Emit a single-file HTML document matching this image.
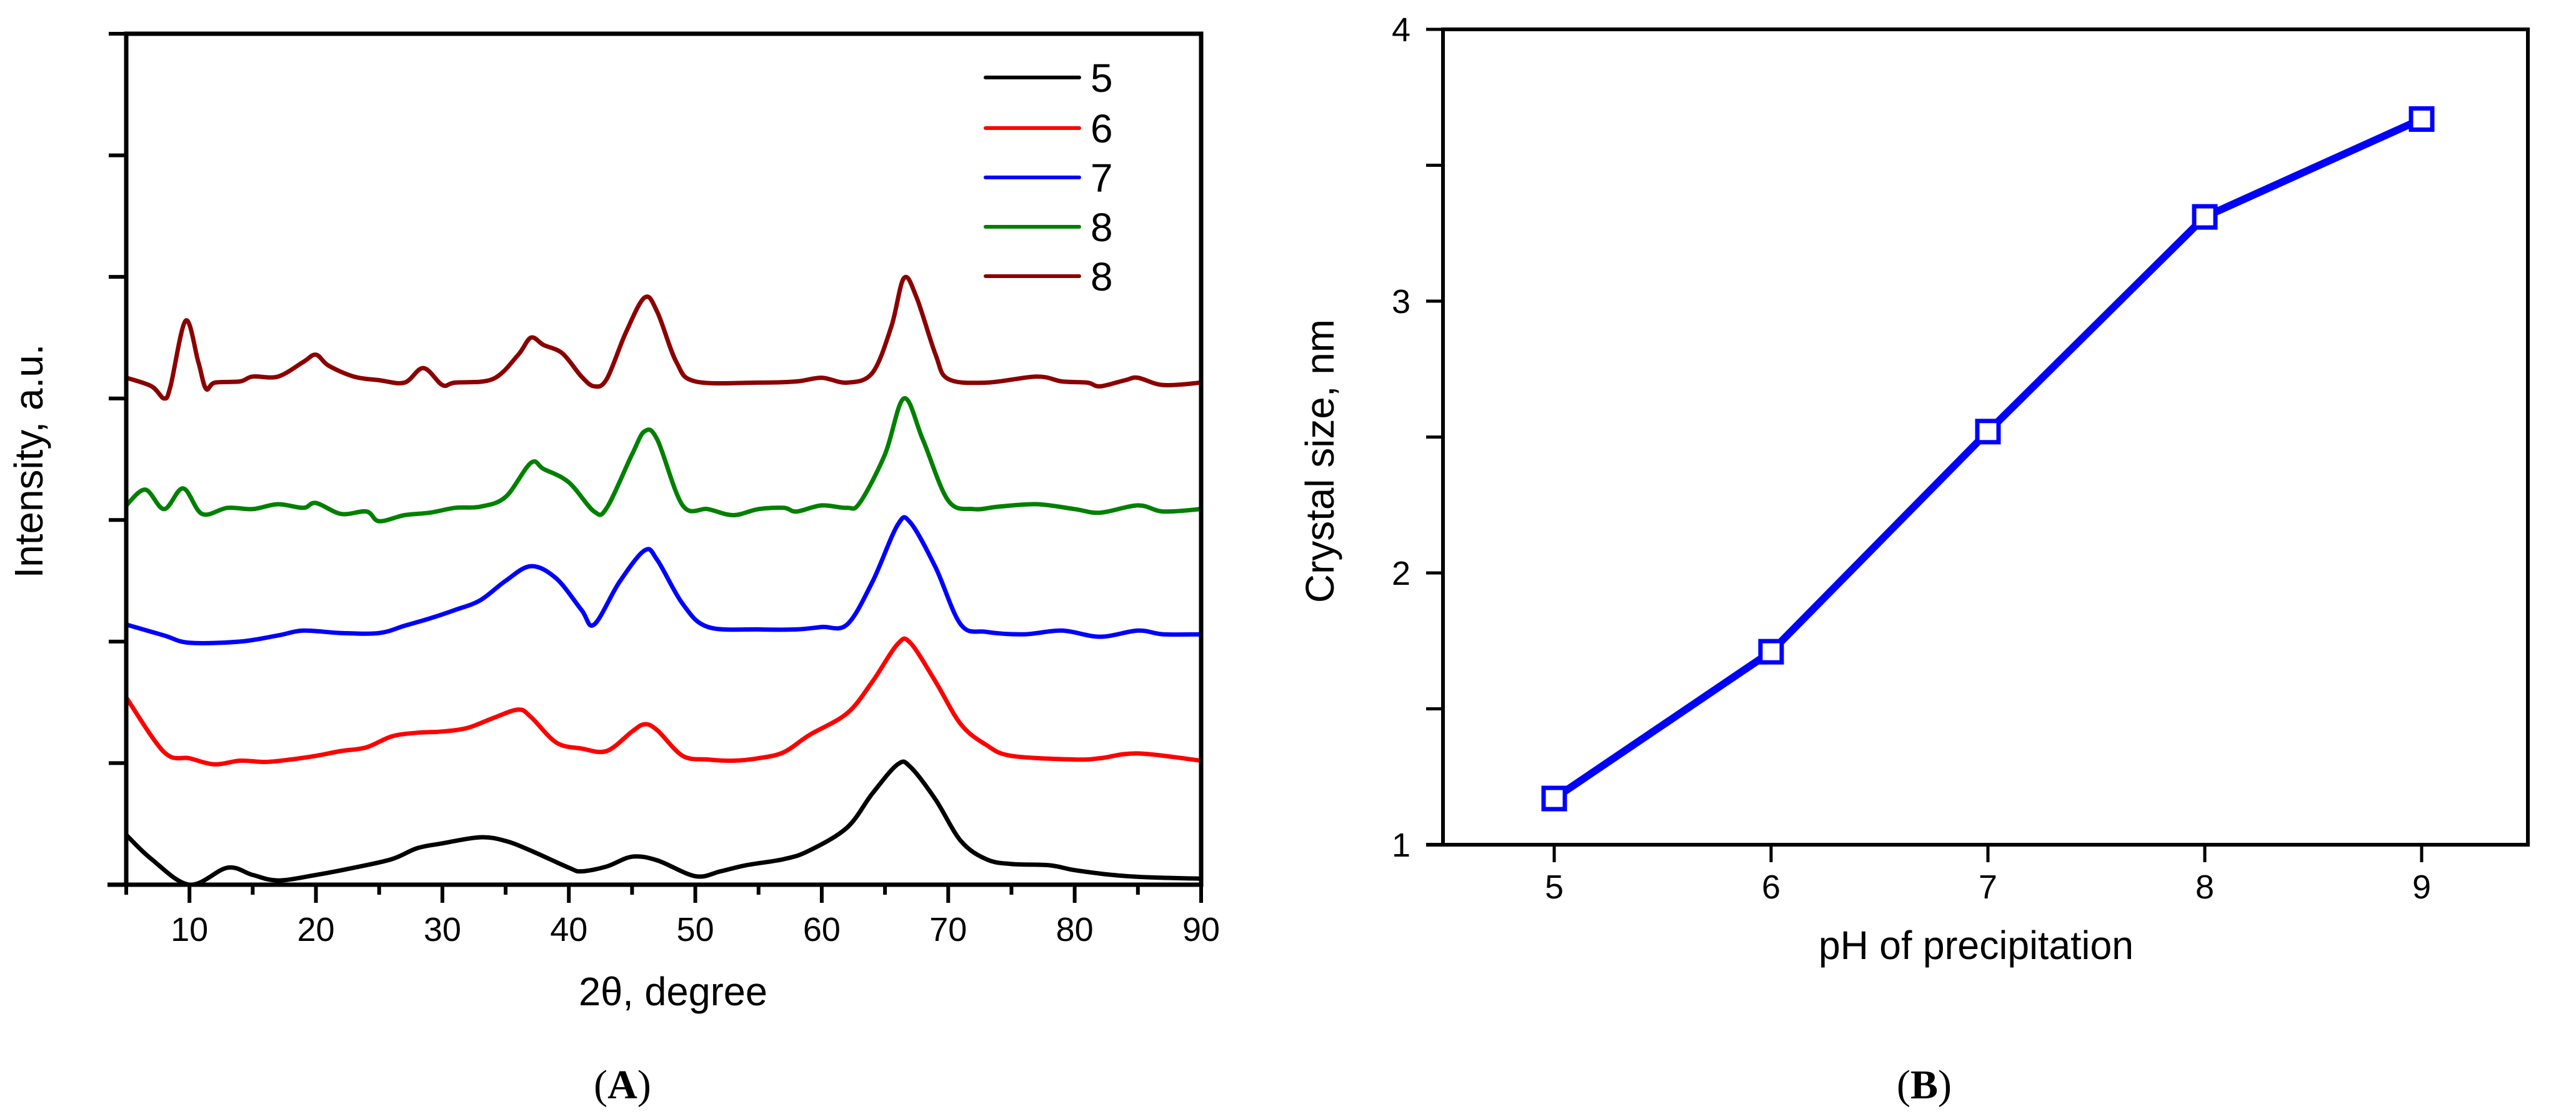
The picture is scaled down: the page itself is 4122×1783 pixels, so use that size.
<!DOCTYPE html>
<html><head><meta charset="utf-8"><style>
html,body{margin:0;padding:0;background:#fff;}
svg{display:block;font-family:"Liberation Sans",sans-serif;}
</style></head><body>
<svg id="fig" width="4122" height="1783" viewBox="0 0 4122 1783" xmlns="http://www.w3.org/2000/svg">
<g id="pa"></g>
<g id="pb"></g>
</svg>
<script>
// ---- Panel A data (x in 2theta, y in tick units) ----
const xBlack=[5,7,10,13,15,17,20,23,26,28,30,33,35,37,40,41,43,45,47,50,52,54,57,59,62,64,66,67,69,71,73,75,78,80,83,86,90];
const yBlack=[0.41,0.21,0,0.14,0.08,0.035,0.08,0.14,0.21,0.30,0.34,0.39,0.36,0.28,0.14,0.11,0.15,0.23,0.20,0.07,0.11,0.16,0.21,0.28,0.47,0.75,0.99,0.97,0.70,0.36,0.21,0.17,0.16,0.12,0.08,0.06,0.05];
const xRed=[5,8,10,12,14,16,18,20,22,24,26,28,30,32,34,36,37,39,41,43,45,46,47,49,51,53,55,57,59,62,64,66,67,69,71,73,75,80,82,85,90];
const yRed=[1.54,1.09,1.04,0.99,1.02,1.01,1.03,1.06,1.10,1.13,1.22,1.25,1.26,1.29,1.37,1.44,1.38,1.17,1.12,1.10,1.26,1.32,1.27,1.06,1.03,1.02,1.04,1.09,1.23,1.41,1.67,1.98,1.99,1.67,1.32,1.15,1.06,1.03,1.04,1.08,1.02];
const xBlue=[5,8,10,14,17,19,22,25,27,29,31,33,35,37,39,41,42,44,46,47,49,51,55,58,60,62,64,66,67,69,71,73,76,79,82,85,87,90];
const yBlue=[2.14,2.05,1.99,2.00,2.05,2.09,2.07,2.07,2.13,2.19,2.26,2.34,2.50,2.62,2.52,2.26,2.14,2.49,2.75,2.67,2.31,2.12,2.10,2.10,2.12,2.14,2.49,2.96,2.98,2.61,2.14,2.08,2.06,2.09,2.04,2.09,2.06,2.06];
const xGreen=[5,6.5,8,9.5,11,13,15,17,19,20,22,24,25,27,29,31,33,35,37,38,40,42,43,45,46,47,49,51,53,55,57,58,60,62,63,65,66.5,68,70,72,74,77,80,82,85,87,90];
const yGreen=[3.12,3.25,3.09,3.26,3.05,3.10,3.09,3.13,3.10,3.14,3.05,3.07,2.99,3.04,3.06,3.10,3.11,3.19,3.47,3.42,3.31,3.07,3.10,3.54,3.73,3.66,3.12,3.09,3.04,3.09,3.10,3.07,3.12,3.10,3.14,3.54,4.00,3.66,3.16,3.09,3.11,3.13,3.09,3.06,3.12,3.07,3.09];
const xDark=[5,7,8,8.5,9.7,10.7,11.3,12,14,15,17,19,20,21,23,25,27,28.5,30,31,34,36,37,38,39.5,41,42,43,44.5,46,47,48.5,50,55,58,60,62,64,65.5,66.5,67.5,69,70,73,77,79,81,82,84,85,87,90];
const yDark=[4.17,4.10,4.00,4.10,4.64,4.30,4.08,4.13,4.14,4.18,4.18,4.30,4.36,4.27,4.18,4.15,4.13,4.25,4.11,4.13,4.16,4.36,4.50,4.44,4.37,4.18,4.10,4.16,4.54,4.83,4.71,4.30,4.14,4.13,4.14,4.17,4.13,4.21,4.59,4.99,4.83,4.36,4.16,4.13,4.18,4.14,4.13,4.10,4.15,4.17,4.11,4.13];
const xTicksA=[10,20,30,40,50,60,70,80,90];
const legendLabels=["5","6","7","8","8"];
// ---- Panel B data ----
const phValues=[5,6,7,8,9];
const crystalSize=[1.17,1.71,2.52,3.31,3.67];
const yTicksB=[1,2,3,4];
const xTicksB=[5,6,7,8,9];

const NS="http://www.w3.org/2000/svg";
function mk(parent,tag,attrs,name,text){
  const e=document.createElementNS(NS,tag);
  for(const k in attrs)e.setAttribute(k,attrs[k]);
  
  
  if(text!==undefined)e.textContent=text;
  parent.appendChild(e);return e;
}
function smooth(pts){
  let d="M"+pts[0][0].toFixed(1)+","+pts[0][1].toFixed(1);
  for(let i=0;i<pts.length-1;i++){
    const p0=pts[Math.max(0,i-1)],p1=pts[i],p2=pts[i+1],p3=pts[Math.min(pts.length-1,i+2)];
    const c1=[p1[0]+(p2[0]-p0[0])/6,p1[1]+(p2[1]-p0[1])/6];
    const c2=[p2[0]-(p3[0]-p1[0])/6,p2[1]-(p3[1]-p1[1])/6];
    d+="C"+c1[0].toFixed(1)+","+c1[1].toFixed(1)+" "+c2[0].toFixed(1)+","+c2[1].toFixed(1)+" "+p2[0].toFixed(1)+","+p2[1].toFixed(1);
  }
  return d;
}
// ---- Panel A ----
const pa=document.getElementById('pa');
const AL=202,AR=1922,AT=54,AB=1416;
const ax=x=>AL+(x-5)*(AR-AL)/85;
const ay=v=>AB-v*(AB-AT)/7;
const clipA=mk(pa,'clipPath',{id:'clipA'},'clip-a');
mk(clipA,'rect',{x:AL,y:AT,width:AR-AL,height:AB-AT},'clip-rect-a');
const series=[[xBlack,yBlack,'#000000','series-ph5'],[xRed,yRed,'#ff0000','series-ph6'],[xBlue,yBlue,'#0000ff','series-ph7'],[xGreen,yGreen,'#008000','series-ph8-green'],[xDark,yDark,'#8b0000','series-ph8-darkred']];
series.forEach(s=>{
  const pts=s[0].map((x,i)=>[ax(x),ay(s[1][i])]);
  mk(pa,'path',{d:smooth(pts),fill:'none',stroke:s[2],'stroke-width':7,'stroke-linejoin':'round','clip-path':'url(#clipA)'},s[3]);
});
mk(pa,'rect',{x:AL,y:AT,width:AR-AL,height:AB-AT,fill:'none',stroke:'#000','stroke-width':7},'plot-frame-a');
mk(pa,'line',{x1:AL-30,y1:AB,x2:AL,y2:AB,stroke:'#000','stroke-width':7},'axis-overhang-a');
for(let i=1;i<=7;i++){
  mk(pa,'line',{x1:AL-28,y1:ay(i),x2:AL,y2:ay(i),stroke:'#000','stroke-width':6},'y-tick-a');
}
for(let x=5;x<=90;x+=5){
  const major=x%10===0;
  mk(pa,'line',{x1:ax(x),y1:AB,x2:ax(x),y2:AB+(major?29:16),stroke:'#000','stroke-width':6},'x-tick-a');
}
xTicksA.forEach(t=>{
  mk(pa,'text',{x:ax(t),y:AB+90,'font-size':54,'text-anchor':'middle'},'x-tick-label-a',String(t));
});
mk(pa,'text',{x:1077,y:1609,'font-size':64,'text-anchor':'middle',textLength:302,lengthAdjust:'spacingAndGlyphs'},'x-axis-title-a','2θ, degree');
mk(pa,'text',{x:0,y:0,'font-size':64,'text-anchor':'middle',textLength:375,lengthAdjust:'spacingAndGlyphs',transform:'translate(68,738) rotate(-90)'},'y-axis-title-a','Intensity, a.u.');
const legCols=['#000000','#ff0000','#0000ff','#008000','#8b0000'];
const legY=[124,205,284,363,442];
legendLabels.forEach((l,i)=>{
  mk(pa,'line',{x1:1577,y1:legY[i],x2:1727,y2:legY[i],stroke:legCols[i],'stroke-width':6,'stroke-linecap':'round'},'legend-line');
  mk(pa,'text',{x:1745,y:legY[i]+23,'font-size':64},'legend-label',l);
});
// ---- Panel B ----
const pb=document.getElementById('pb');
const BL=2309,BR=4045,BT=47,BB=1352;
const bx=x=>2487+(x-5)*347;
const by=v=>BB-(v-1)*(BB-BT)/3;
mk(pb,'rect',{x:BL,y:BT,width:BR-BL,height:BB-BT,fill:'none',stroke:'#000','stroke-width':6},'plot-frame-b');
mk(pb,'line',{x1:BL-27,y1:BB,x2:BL,y2:BB,stroke:'#000','stroke-width':6},'axis-overhang-b');
for(let v=1;v<=4;v+=0.5){
  mk(pb,'line',{x1:BL-27,y1:by(v),x2:BL,y2:by(v),stroke:'#000','stroke-width':5},'y-tick-b');
}
yTicksB.forEach(t=>{
  mk(pb,'text',{x:BL-52,y:by(t)+19,'font-size':54,'text-anchor':'end'},'y-tick-label-b',String(t));
});
xTicksB.forEach(t=>{
  mk(pb,'line',{x1:bx(t),y1:BB,x2:bx(t),y2:BB+28,stroke:'#000','stroke-width':5},'x-tick-b');
  mk(pb,'text',{x:bx(t),y:BB+86,'font-size':54,'text-anchor':'middle'},'x-tick-label-b',String(t));
});
mk(pb,'text',{x:3162,y:1535,'font-size':64,'text-anchor':'middle',textLength:504,lengthAdjust:'spacingAndGlyphs'},'x-axis-title-b','pH of precipitation');
mk(pb,'text',{x:0,y:0,'font-size':64,'text-anchor':'middle',textLength:454,lengthAdjust:'spacingAndGlyphs',transform:'translate(2134,738) rotate(-90)'},'y-axis-title-b','Crystal size, nm');
const linePts=phValues.map((p,i)=>bx(p)+','+by(crystalSize[i])).join(' ');
mk(pb,'polyline',{points:linePts,fill:'none',stroke:'#0000ff','stroke-width':12,'stroke-linejoin':'round','stroke-linecap':'round'},'crystal-size-line');
phValues.forEach((p,i)=>{
  mk(pb,'rect',{x:bx(p)-17,y:by(crystalSize[i])-17,width:34,height:34,fill:'#fff',stroke:'#0000ff','stroke-width':7},'data-marker');
});
function panelLabel(parent,x,letter,name){
  const t=mk(parent,'text',{x:x,y:1758,'font-size':66,'text-anchor':'middle','font-family':'Liberation Serif, serif'},name);
  const a=document.createElementNS(NS,'tspan');a.textContent='(';t.appendChild(a);
  const b=document.createElementNS(NS,'tspan');b.setAttribute('font-weight','bold');b.textContent=letter;t.appendChild(b);
  const c=document.createElementNS(NS,'tspan');c.textContent=')';t.appendChild(c);
}
panelLabel(pa,996,'A','panel-label-a');
panelLabel(pb,3079,'B','panel-label-b');
</script>
</body></html>
